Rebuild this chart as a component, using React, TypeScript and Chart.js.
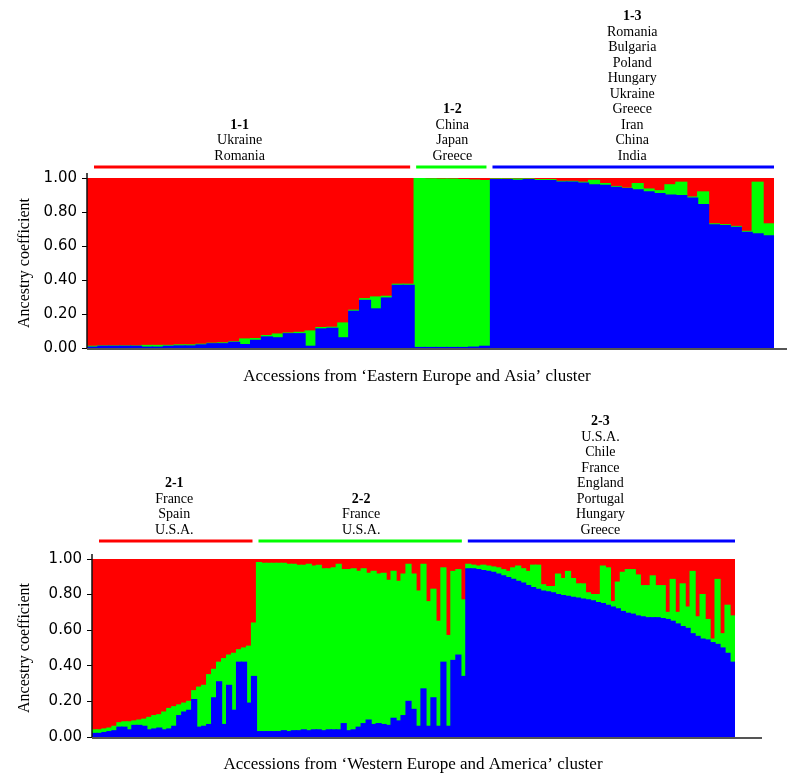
import React, { useEffect, useRef } from "react";
import { Chart, registerables } from "chart.js";

Chart.register(...registerables);

// ---------- Panel 1: 'Eastern Europe and Asia' cluster ----------
const EA_11_BLUE = [0.005,0.01,0.01,0.01,0.01,0.005,0.005,0.01,0.012,0.012,0.018,0.025,0.025,0.033,0.02,0.045,0.065,0.06,0.084,0.084,0.01,0.112,0.116,0.06,0.216,0.28,0.23,0.294,0.369,0.369];
const EA_11_GREEN = [0.005,0.002,0.002,0.002,0.002,0.01,0.01,0.005,0.006,0.006,0.004,0.003,0.005,0.003,0.033,0.01,0.008,0.022,0.004,0.008,0.09,0.008,0.006,0.087,0.006,0.01,0.07,0.01,0.006,0.006];
const EA_11_RED = [0.99,0.988,0.988,0.988,0.988,0.985,0.985,0.985,0.982,0.982,0.978,0.972,0.97,0.964,0.947,0.945,0.927,0.918,0.912,0.908,0.9,0.88,0.878,0.853,0.778,0.71,0.7,0.696,0.625,0.625];

const EA_12_BLUE = [0.002,0.002,0.002,0.002,0.002,0.005,0.01];
const EA_12_GREEN = [0.994,0.993,0.992,0.992,0.988,0.983,0.975];
const EA_12_RED = [0.004,0.005,0.006,0.006,0.01,0.012,0.015];

const EA_13_BLUE = [0.99,0.99,0.986,0.99,0.984,0.984,0.976,0.976,0.97,0.96,0.957,0.945,0.937,0.93,0.918,0.908,0.9,0.896,0.882,0.843,0.725,0.72,0.71,0.68,0.672,0.66];
const EA_13_GREEN = [0.004,0.004,0.008,0.004,0.006,0.006,0.004,0.004,0.005,0.026,0.01,0.005,0.003,0.037,0.017,0.017,0.06,0.079,0.006,0.075,0.005,0.005,0.005,0.006,0.303,0.07];
const EA_13_RED = [0.006,0.006,0.006,0.006,0.01,0.01,0.02,0.02,0.025,0.014,0.033,0.05,0.06,0.033,0.065,0.075,0.04,0.025,0.112,0.082,0.27,0.275,0.285,0.314,0.025,0.27];

// ---------- Panel 2: 'Western Europe and America' cluster ----------
const WA_21_BLUE = [0.02,0.02,0.025,0.03,0.035,0.055,0.055,0.04,0.065,0.065,0.06,0.04,0.045,0.05,0.04,0.045,0.06,0.12,0.14,0.15,0.21,0.055,0.06,0.07,0.22,0.31,0.07,0.29,0.15,0.42,0.42,0.19,0.34];
const WA_21_GREEN = [0.02,0.02,0.02,0.02,0.025,0.025,0.03,0.045,0.025,0.03,0.04,0.07,0.075,0.075,0.1,0.115,0.11,0.06,0.05,0.05,0.05,0.225,0.23,0.28,0.16,0.11,0.37,0.17,0.32,0.07,0.08,0.32,0.3];
const WA_21_RED = [0.96,0.96,0.955,0.95,0.94,0.92,0.915,0.915,0.91,0.905,0.9,0.89,0.88,0.875,0.86,0.84,0.83,0.82,0.81,0.8,0.74,0.72,0.71,0.65,0.62,0.58,0.56,0.54,0.53,0.51,0.5,0.49,0.36];

const WA_22_BLUE = [0.03,0.03,0.03,0.03,0.03,0.035,0.03,0.035,0.035,0.04,0.035,0.04,0.04,0.035,0.04,0.04,0.04,0.075,0.035,0.04,0.055,0.075,0.095,0.07,0.075,0.07,0.065,0.105,0.09,0.12,0.2,0.155,0.06,0.27,0.06,0.22,0.06,0.42,0.06,0.43,0.46,0.34];
const WA_22_GREEN = [0.95,0.945,0.945,0.945,0.945,0.94,0.94,0.935,0.93,0.925,0.935,0.92,0.925,0.91,0.905,0.91,0.93,0.865,0.905,0.905,0.875,0.87,0.825,0.86,0.84,0.85,0.815,0.825,0.785,0.795,0.77,0.76,0.76,0.7,0.7,0.61,0.59,0.53,0.51,0.5,0.48,0.43];
const WA_22_RED = [0.02,0.025,0.025,0.025,0.025,0.025,0.03,0.03,0.035,0.035,0.03,0.04,0.035,0.055,0.055,0.05,0.03,0.06,0.06,0.055,0.07,0.055,0.08,0.07,0.085,0.08,0.12,0.07,0.125,0.085,0.03,0.085,0.18,0.03,0.24,0.17,0.35,0.05,0.43,0.07,0.06,0.23];

const WA_23_BLUE = [0.945,0.945,0.94,0.935,0.93,0.925,0.915,0.905,0.895,0.885,0.875,0.865,0.85,0.84,0.83,0.82,0.815,0.81,0.8,0.795,0.79,0.785,0.78,0.775,0.77,0.765,0.755,0.75,0.74,0.73,0.72,0.705,0.695,0.69,0.68,0.675,0.67,0.67,0.67,0.665,0.66,0.65,0.635,0.62,0.61,0.58,0.565,0.55,0.545,0.53,0.52,0.5,0.47,0.42];
const WA_23_GREEN = [0.025,0.02,0.02,0.03,0.03,0.03,0.035,0.035,0.035,0.065,0.085,0.08,0.08,0.125,0.135,0.035,0.03,0.035,0.115,0.095,0.14,0.105,0.08,0.085,0.04,0.035,0.045,0.21,0.21,0.03,0.15,0.22,0.245,0.25,0.23,0.175,0.18,0.235,0.18,0.185,0.04,0.235,0.065,0.24,0.12,0.35,0.11,0.25,0.115,0.02,0.365,0.08,0.27,0.26];
const WA_23_RED = [0.03,0.035,0.04,0.035,0.04,0.045,0.05,0.06,0.07,0.05,0.04,0.055,0.07,0.035,0.035,0.145,0.155,0.155,0.085,0.11,0.07,0.11,0.14,0.14,0.19,0.2,0.2,0.04,0.05,0.24,0.13,0.075,0.06,0.06,0.09,0.15,0.15,0.095,0.15,0.15,0.3,0.115,0.3,0.14,0.27,0.07,0.325,0.2,0.34,0.45,0.115,0.42,0.26,0.32];

// Group headers
const EA_GROUPS = [
  { name: "1-1", countries: ["Ukraine", "Romania"], size: EA_11_BLUE.length },
  { name: "1-2", countries: ["China", "Japan", "Greece"], size: EA_12_BLUE.length },
  { name: "1-3", countries: ["Romania", "Bulgaria", "Poland", "Hungary", "Ukraine", "Greece", "Iran", "China", "India"], size: EA_13_BLUE.length },
];
const WA_GROUPS = [
  { name: "2-1", countries: ["France", "Spain", "U.S.A."], size: WA_21_BLUE.length },
  { name: "2-2", countries: ["France", "U.S.A."], size: WA_22_BLUE.length },
  { name: "2-3", countries: ["U.S.A.", "Chile", "France", "England", "Portugal", "Hungary", "Greece"], size: WA_23_BLUE.length },
];

const Y_TICKS = [0, 0.2, 0.4, 0.6, 0.8, 1.0];
const Y_TITLE = "Ancestry coefficient";
const EA_TITLE = "Accessions from \u2018Eastern Europe and Asia\u2019 cluster";
const WA_TITLE = "Accessions from \u2018Western Europe and America\u2019 cluster";

const RED = "#ff0000";
const GREEN = "#00ff00";
const BLUE = "#0000ff";
const GROUP_COLORS = [RED, GREEN, BLUE];
const SERIF = "'Liberation Serif', 'Times New Roman', serif";

type PanelCfg = {
  blue: number[];
  green: number[];
  red: number[];
  groups: { name: string; countries: string[]; size: number }[];
  title: string;
  width: number;
  height: number;
  padTop: number;
  padRight: number;
  padBottom: number;
  yWidth: number;
  yTitlePad: number;
  axisExtend: number;
  headerGap: number;
  titleDy: number;
  titleX: number;
  firstTextDx: number;
};

const overlayPlugin = {
  id: "overlay",
  afterDraw(chart: any, _args: any, opts: any) {
    const { ctx, chartArea } = chart;
    const xs = chart.scales.x;
    const cfg: PanelCfg = opts.cfg;
    ctx.save();
    // axes
    ctx.strokeStyle = "#111";
    ctx.lineWidth = 1.5;
    ctx.beginPath();
    ctx.moveTo(chartArea.left, chartArea.top - 5);
    ctx.lineTo(chartArea.left, chartArea.bottom + 1);
    ctx.stroke();
    ctx.strokeStyle = "#555";
    ctx.lineWidth = 2;
    ctx.beginPath();
    ctx.moveTo(chartArea.left, chartArea.bottom + 1);
    ctx.lineTo(chartArea.right + cfg.axisExtend, chartArea.bottom + 1);
    ctx.stroke();

    // group headers
    const half = (xs.getPixelForValue(1) - xs.getPixelForValue(0)) / 2;
    let start = 0;
    const lineY = chartArea.top - cfg.headerGap;
    cfg.groups.forEach((g, i) => {
      const x0 = xs.getPixelForValue(start) - half;
      const x1 = xs.getPixelForValue(start + g.size - 1) + half;
      start += g.size;
      const inL = i === 0 ? 7 : 2;
      const inR = i === cfg.groups.length - 1 ? 0 : 4;
      ctx.strokeStyle = GROUP_COLORS[i];
      ctx.lineWidth = 3;
      ctx.beginPath();
      ctx.moveTo(x0 + inL, lineY);
      ctx.lineTo(x1 - inR, lineY);
      ctx.stroke();
      const cx = (x0 + x1) / 2 + (i === 0 ? cfg.firstTextDx : 0);
      const lines = [g.name, ...g.countries];
      ctx.fillStyle = "#000";
      ctx.textAlign = "center";
      ctx.textBaseline = "middle";
      const n = lines.length;
      lines.forEach((t, j) => {
        ctx.font = (j === 0 ? "bold " : "") + "14px " + SERIF;
        const y = lineY - 11 - (n - 1 - j) * 15.5;
        ctx.fillText(t, cx, y);
      });
    });

    // x title
    ctx.font = "17px " + SERIF;
    ctx.fillStyle = "#000";
    ctx.textAlign = "center";
    ctx.textBaseline = "middle";
    ctx.fillText(cfg.title, cfg.titleX, chartArea.bottom + cfg.titleDy);
    ctx.restore();
  },
};

function Panel({ cfg, top }: { cfg: PanelCfg; top: number }) {
  const ref = useRef<HTMLCanvasElement | null>(null);
  useEffect(() => {
    if (!ref.current) return;
    const labels = cfg.blue.map((_, i) => String(i + 1));
    const chart = new Chart(ref.current, {
      type: "bar",
      data: {
        labels,
        datasets: [
          { label: "K1", data: cfg.blue, backgroundColor: BLUE },
          { label: "K2", data: cfg.green, backgroundColor: GREEN },
          { label: "K3", data: cfg.red, backgroundColor: RED },
        ].map((d) => ({
          ...d,
          borderWidth: 0,
          barPercentage: 1,
          categoryPercentage: 1,
          inflateAmount: 0.6,
        })),
      },
      options: {
        responsive: false,
        animation: false,
        devicePixelRatio: 1,
        layout: {
          padding: { top: cfg.padTop, right: cfg.padRight, bottom: cfg.padBottom, left: 0 },
        },
        plugins: {
          legend: { display: false },
          tooltip: { enabled: false },
          overlay: { cfg },
        } as any,
        scales: {
          x: { display: false, stacked: true },
          y: {
            stacked: true,
            min: 0,
            max: 1,
            afterFit: (s: any) => {
              s.width = cfg.yWidth;
            },
            afterBuildTicks: (s: any) => {
              s.ticks = Y_TICKS.map((v) => ({ value: v }));
            },
            ticks: {
              padding: 5,
              color: "#000",
              font: { family: "'DejaVu Sans', sans-serif", size: 15 },
              callback: (v: any) => Number(v).toFixed(2),
            },
            grid: {
              drawOnChartArea: false,
              drawTicks: true,
              tickLength: 5,
              color: "#000",
              lineWidth: 1,
            },
            border: { display: false },
            title: {
              display: true,
              text: Y_TITLE,
              color: "#000",
              font: { family: SERIF, size: 16 },
              padding: { top: cfg.yTitlePad, bottom: 0 },
            },
          },
        },
      } as any,
      plugins: [overlayPlugin],
    });
    return () => chart.destroy();
  }, [cfg]);
  return (
    <canvas
      ref={ref}
      width={cfg.width}
      height={cfg.height}
      style={{ position: "absolute", left: 0, top, width: cfg.width, height: cfg.height }}
    />
  );
}

const PANEL_EA: PanelCfg = {
  blue: [...EA_11_BLUE, ...EA_12_BLUE, ...EA_13_BLUE],
  green: [...EA_11_GREEN, ...EA_12_GREEN, ...EA_13_GREEN],
  red: [...EA_11_RED, ...EA_12_RED, ...EA_13_RED],
  groups: EA_GROUPS,
  title: EA_TITLE,
  width: 787,
  height: 395,
  padTop: 178,
  padRight: 13,
  padBottom: 47,
  yWidth: 87,
  yTitlePad: 15,
  axisExtend: 13,
  headerGap: 11,
  titleDy: 29,
  titleX: 417,
  firstTextDx: -11,
};

const PANEL_WA: PanelCfg = {
  blue: [...WA_21_BLUE, ...WA_22_BLUE, ...WA_23_BLUE],
  green: [...WA_21_GREEN, ...WA_22_GREEN, ...WA_23_GREEN],
  red: [...WA_21_RED, ...WA_22_RED, ...WA_23_RED],
  groups: WA_GROUPS,
  title: WA_TITLE,
  width: 787,
  height: 380,
  padTop: 164,
  padRight: 52,
  padBottom: 38,
  yWidth: 92,
  yTitlePad: 15,
  axisExtend: 27,
  headerGap: 18,
  titleDy: 28,
  titleX: 413,
  firstTextDx: 0,
};

export default function App() {
  return (
    <div style={{ position: "absolute", left: 0, top: 0, width: 787, height: 775, background: "#fff" }}>
      <Panel cfg={PANEL_EA} top={0} />
      <Panel cfg={PANEL_WA} top={395} />
    </div>
  );
}
